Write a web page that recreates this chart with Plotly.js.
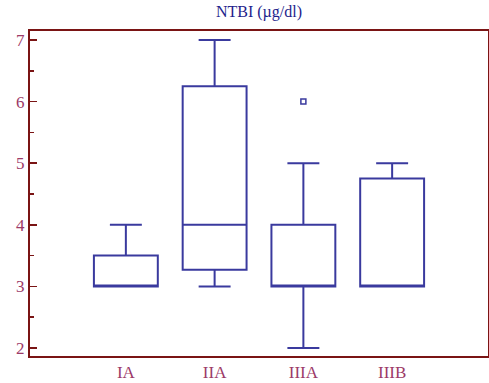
<!DOCTYPE html>
<html><head><meta charset="utf-8">
<script src="https://cdn.plot.ly/plotly-3.0.1.min.js"></script>
<style>body{margin:0;padding:0;background:#fff}#chart{width:489px;height:383px}</style>
</head><body><div id="chart"></div>
<script>
const groups = ["IA", "IIA", "IIIA", "IIIB"];
const lowerFence = [3, 3, 2, 3];
const q1 = [3, 3.27, 3, 3];
const median = [3, 4, 3, 3];
const q3 = [3.5, 6.25, 4, 4.75];
const upperFence = [4, 7, 5, 5];
const outlierGroup = ["IIIA"];
const outlierValue = [6];

const boxColor = "#3a3a9e";
const frameColor = "#7a1414";
const labelColor = "#9c3a68";
const font = "'Liberation Serif', 'Times New Roman', serif";

const traces = [
  {
    type: "box",
    x: groups,
    q1: q1, median: median, q3: q3,
    lowerfence: lowerFence, upperfence: upperFence,
    boxpoints: false,
    width: 0.72,
    whiskerwidth: 0.5,
    fillcolor: "rgba(0,0,0,0)",
    line: {color: boxColor, width: 2},
    hoverinfo: "skip"
  },
  {
    type: "scatter",
    mode: "markers",
    x: outlierGroup,
    y: outlierValue,
    marker: {symbol: "square-open", size: 5, color: boxColor, line: {width: 1.5, color: boxColor}},
    hoverinfo: "skip"
  }
];

const layout = {
  width: 489, height: 383,
  margin: {l: 30, r: 1, t: 31, b: 27},
  paper_bgcolor: "#fff", plot_bgcolor: "#fff",
  showlegend: false,
  font: {family: font, color: labelColor, size: 17},
  title: {text: "NTBI (µg/dl)", xref: "paper", x: 0.5, xanchor: "center", y: 0.985, yanchor: "top",
          font: {family: font, size: 16, color: "#1e1e8c"}},
  xaxis: {
    type: "category",
    range: [-1.08, 4.08],
    showgrid: false, zeroline: false,
    showline: true, mirror: true, linecolor: frameColor, linewidth: 2,
    ticks: "", tickfont: {family: font, size: 17, color: labelColor}
  },
  yaxis: {
    range: [1.87, 7.146],
    tickvals: [2, 3, 4, 5, 6, 7],
    showgrid: false, zeroline: false,
    showline: true, mirror: true, linecolor: frameColor, linewidth: 2,
    ticks: "inside", ticklen: 7, tickwidth: 1.5, tickcolor: frameColor,
    minor: {tickvals: [2.5, 3.5, 4.5, 5.5, 6.5], ticks: "inside", ticklen: 4, tickwidth: 1.5, tickcolor: frameColor},
    tickfont: {family: font, size: 17, color: labelColor}
  }
};

Plotly.newPlot("chart", traces, layout, {staticPlot: true, displayModeBar: false});
</script></body></html>
